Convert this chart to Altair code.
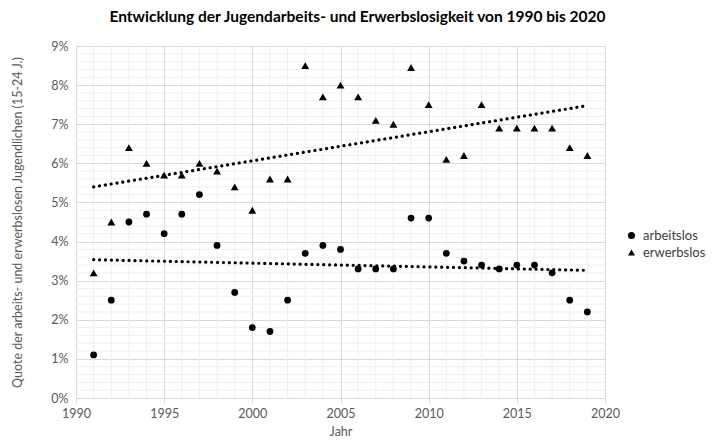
import altair as alt
import pandas as pd

years = list(range(1991, 2020))
arbeitslos = [1.1, 2.5, 4.5, 4.7, 4.2, 4.7, 5.2, 3.9, 2.7, 1.8, 1.7, 2.5, 3.7, 3.9, 3.8,
              3.3, 3.3, 3.3, 4.6, 4.6, 3.7, 3.5, 3.4, 3.3, 3.4, 3.4, 3.2, 2.5, 2.2]
erwerbslos = [3.2, 4.5, 6.4, 6.0, 5.7, 5.7, 6.0, 5.8, 5.4, 4.8, 5.6, 5.6, 8.5, 7.7, 8.0,
              7.7, 7.1, 7.0, 8.45, 7.5, 6.1, 6.2, 7.5, 6.9, 6.9, 6.9, 6.9, 6.4, 6.2]
series_names = ["arbeitslos", "erwerbslos"]
x_ticks = [1990, 1995, 2000, 2005, 2010, 2015, 2020]
y_ticks = [0, 1, 2, 3, 4, 5, 6, 7, 8, 9]
x_minor = [y for y in range(1990, 2021) if y % 5 != 0]
y_minor = [round(v * 0.2, 1) for v in range(0, 46) if v % 5 != 0]

df = pd.DataFrame({
    "Jahr": years * 2,
    "Wert": arbeitslos + erwerbslos,
    "Serie": [series_names[0]] * len(years) + [series_names[1]] * len(years),
})

FONT = "Lato"
W, H = 529, 352
XT = "Jahr"
YT = "Quote der arbeits- und erwerbslosen Jugendlichen (15-24 J.)"

xs = alt.Scale(domain=[1990, 2020], nice=False, zero=False)
ys = alt.Scale(domain=[0, 9], nice=False)

x_axis = alt.Axis(values=x_ticks, format="d", title=XT, grid=True, labelFlush=False,
                  gridColor="#d9d9d9", domainColor="#d9d9d9", tickColor="#d9d9d9",
                  tickSize=5, labelPadding=4, titlePadding=6,
                  labelFontSize=12.5, titleFontSize=12.5, labelColor="#595959",
                  titleColor="#595959", titleFontWeight="normal",
                  labelFont=FONT, titleFont=FONT)
y_axis = alt.Axis(values=y_ticks, labelExpr="datum.value + '%'", title=YT, labelFlush=False,
                  grid=True, gridColor="#d9d9d9", domain=False, ticks=False,
                  labelPadding=8, titlePadding=26, labelFontSize=12.5, titleFontSize=12.5,
                  labelColor="#595959", titleColor="#595959", titleFontWeight="normal",
                  labelFont=FONT, titleFont=FONT)

minor_v = alt.Chart(pd.DataFrame({"Jahr": x_minor})).mark_rule(color="#efefef", strokeWidth=1).encode(
    x=alt.X("Jahr:Q", scale=xs, axis=x_axis))
minor_h = alt.Chart(pd.DataFrame({"Wert": y_minor})).mark_rule(color="#efefef", strokeWidth=1).encode(
    y=alt.Y("Wert:Q", scale=ys, axis=y_axis))

base = alt.Chart(df)

points = base.mark_point(filled=True, opacity=1, color="black").encode(
    x=alt.X("Jahr:Q", scale=xs, axis=x_axis),
    y=alt.Y("Wert:Q", scale=ys, axis=y_axis),
    shape=alt.Shape("Serie:N",
                    scale=alt.Scale(domain=series_names, range=["circle", "triangle-up"]),
                    legend=alt.Legend(title=None, orient="none", legendX=549, legendY=183,
                                      labelFontSize=13, labelFont=FONT, labelColor="#404040",
                                      symbolFillColor="black", symbolStrokeColor="black",
                                      symbolSize=50, rowPadding=3, labelOffset=5)),
    size=alt.condition(alt.datum.Serie == "erwerbslos", alt.value(62), alt.value(46)),
)

trend = base.transform_regression("Jahr", "Wert", groupby=["Serie"]).mark_line(
    color="black", strokeWidth=3.2, strokeDash=[0.1, 5.8], strokeCap="round").encode(
    x=alt.X("Jahr:Q", scale=xs, axis=x_axis),
    y=alt.Y("Wert:Q", scale=ys, axis=y_axis),
    detail="Serie:N",
)

chart = alt.layer(minor_v, minor_h, trend, points).properties(
    width=W, height=H,
    title=alt.TitleParams("Entwicklung der Jugendarbeits- und Erwerbslosigkeit von 1990 bis 2020",
                          font=FONT, fontSize=15.5, fontWeight="bold", color="#000000",
                          anchor="middle", dx=17, offset=15),
    padding={"left": 68, "top": 38, "right": 101, "bottom": 42},
    autosize=alt.AutoSizeParams(type="none"),
).configure_view(stroke=None).configure(background="white")

chart.save("out.html", embed_options={"renderer": "svg", "actions": False})
